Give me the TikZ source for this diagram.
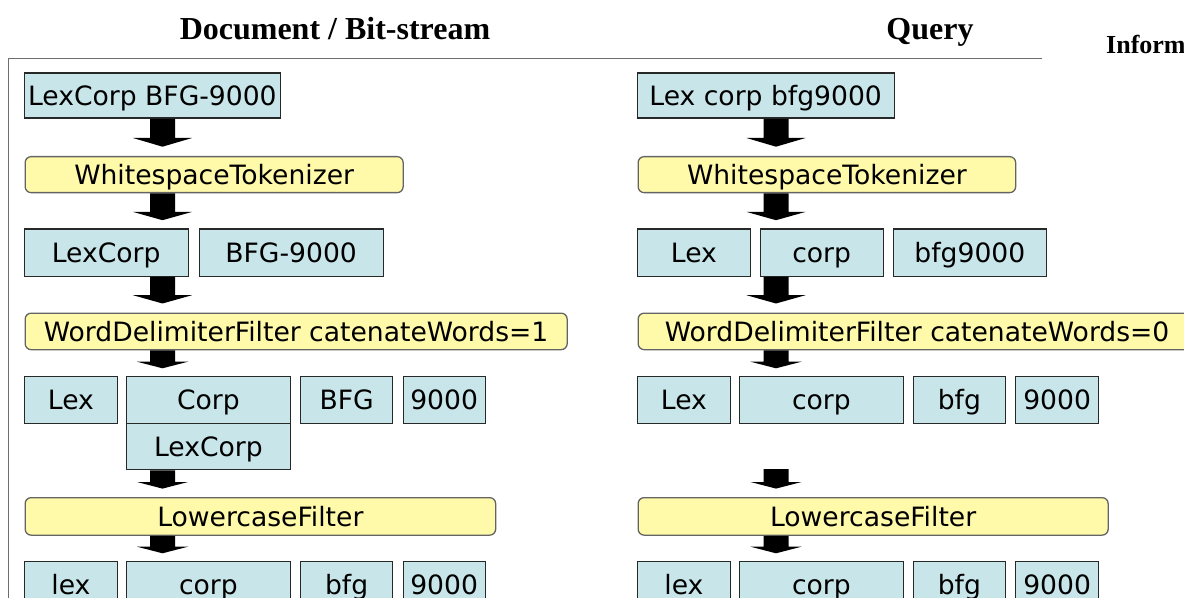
\documentclass[tikz,border=0pt]{standalone}
\usepackage{fontspec}
\setmainfont{Liberation Serif}
\newfontfamily\boxfont{DejaVu Sans}
\usetikzlibrary{calc}
\definecolor{cellblue}{RGB}{200,230,234}
\definecolor{filteryellow}{RGB}{255,250,170}
\definecolor{cellborder}{RGB}{40,40,40}
\definecolor{filterborder}{RGB}{100,100,100}
\definecolor{framegray}{RGB}{110,110,110}
\tikzset{
  cell/.style={draw=cellborder, fill=cellblue, line width=1.3bp, inner sep=0pt,
    anchor=north west, font=\boxfont\fontsize{26.6bp}{30bp}\selectfont,
    text height=19.4bp, text depth=0pt},
  filterbox/.style={cell, draw=filterborder, fill=filteryellow, rounded corners=6bp},
  title/.style={font=\bfseries\fontsize{32bp}{36bp}\selectfont, anchor=base, inner sep=0pt},
  frameline/.style={draw=framegray, line width=1.5bp},
}
% #1 start point, #2 tip point, #3 head half width, #4 head length
\newcommand\barrow[4]{%
  \fill[black] let \p1=(#1), \p2=(#2) in
   (\x1-12.5bp,\y1) -- (\x1-12.5bp,\y2+#4) -- (\x1-#3,\y2+#4) -- (\x1,\y2)
   -- (\x1+#3,\y2+#4) -- (\x1+12.5bp,\y2+#4) -- (\x1+12.5bp,\y1) -- cycle;}
\begin{document}
\begin{tikzpicture}[x=1bp, y=-1bp]
\useasboundingbox (0,0) rectangle (1184,598);
% titles
\node[title] (tdoc) at (335,39.3) {Document / Bit-stream};
\node[title] (tq) at (930,39.3) {Query};
\node[font=\bfseries\fontsize{26bp}{30bp}\selectfont, anchor=base west, inner sep=0pt] (tinf) at (1106,53.3) {Inform};
% frame
\path[frameline] (1042,58.5) -- (8.5,58.5) -- (8.5,620);
\coordinate (colL) at (162.5,0);
\coordinate (colR) at (776,0);
% ---------- left column ----------
\node[cell, minimum width=256.5bp, minimum height=45bp] (in1) at (23.5,72.5) {LexCorp BFG-9000};
\node[filterbox, minimum width=378bp, minimum height=36bp] (ws1) at (24.5,156) {WhitespaceTokenizer};
\node[cell, minimum width=164bp, minimum height=47bp] (t1a) at (23.5,228.5) {LexCorp};
\node[cell, minimum width=184bp, minimum height=47bp] (t1b) at (198.5,228.5) {BFG-9000};
\node[filterbox, minimum width=542bp, minimum height=36.5bp] (wdf1) at (24.5,312.5) {WordDelimiterFilter catenateWords=1};
\node[cell, minimum width=93.5bp, minimum height=47bp] (d1a) at (23.5,376) {Lex};
\node[cell, minimum width=163.5bp, minimum height=47bp] (d1b) at (126,376) {Corp};
\node[cell, minimum width=163.5bp, minimum height=46bp] (d1c) at (126,423) {LexCorp};
\node[cell, minimum width=92bp, minimum height=47bp] (d1d) at (300,376) {BFG};
\node[cell, minimum width=82bp, minimum height=47bp] (d1e) at (402.5,376) {9000};
\node[filterbox, minimum width=470.5bp, minimum height=37.5bp] (lc1) at (24.5,497) {LowercaseFilter};
\node[cell, minimum width=93.5bp, minimum height=47bp] (o1a) at (23.5,561) {lex};
\node[cell, minimum width=163.5bp, minimum height=47bp] (o1b) at (126,561) {corp};
\node[cell, minimum width=92bp, minimum height=47bp] (o1c) at (300,561) {bfg};
\node[cell, minimum width=82bp, minimum height=47bp] (o1d) at (402.5,561) {9000};
% ---------- right column ----------
\node[cell, minimum width=257bp, minimum height=45bp] (in2) at (636.5,72.5) {Lex corp bfg9000};
\node[filterbox, minimum width=377.5bp, minimum height=36bp] (ws2) at (637.5,156) {WhitespaceTokenizer};
\node[cell, minimum width=113.5bp, minimum height=47bp] (t2a) at (636.5,228.5) {Lex};
\node[cell, minimum width=123bp, minimum height=47bp] (t2b) at (759.5,228.5) {corp};
\node[cell, minimum width=153.5bp, minimum height=47bp] (t2c) at (892.5,228.5) {bfg9000};
\node[filterbox, minimum width=558bp, minimum height=36.5bp] (wdf2) at (637.5,312.5) {WordDelimiterFilter catenateWords=0};
\node[cell, minimum width=93.5bp, minimum height=47bp] (d2a) at (636.5,376) {Lex};
\node[cell, minimum width=164.5bp, minimum height=47bp] (d2b) at (738.5,376) {corp};
\node[cell, minimum width=92.5bp, minimum height=47bp] (d2c) at (912.5,376) {bfg};
\node[cell, minimum width=83bp, minimum height=47bp] (d2d) at (1015,376) {9000};
\node[filterbox, minimum width=470bp, minimum height=37.5bp] (lc2) at (637.5,497) {LowercaseFilter};
\node[cell, minimum width=93.5bp, minimum height=47bp] (o2a) at (636.5,561) {lex};
\node[cell, minimum width=164.5bp, minimum height=47bp] (o2b) at (738.5,561) {corp};
\node[cell, minimum width=92.5bp, minimum height=47bp] (o2c) at (912.5,561) {bfg};
\node[cell, minimum width=83bp, minimum height=47bp] (o2d) at (1015,561) {9000};
\coordinate (freeR) at (776,469);
% ---------- arrows ----------
\barrow{colL |- in1.south}{$(colL |- ws1.north)+(0,-9.3)$}{29.5bp}{8.7bp}
\barrow{colL |- ws1.south}{$(colL |- t1a.north)+(0,-8.3)$}{29.5bp}{8.3bp}
\barrow{colL |- t1a.south}{$(colL |- wdf1.north)+(0,-9)$}{29.5bp}{8.3bp}
\barrow{colL |- wdf1.south}{$(colL |- d1a.north)+(0,-7.7)$}{25.5bp}{6.6bp}
\barrow{colL |- d1c.south}{$(colL |- lc1.north)+(0,-8.4)$}{25.5bp}{6.6bp}
\barrow{colL |- lc1.south}{$(colL |- o1a.north)+(0,-7.7)$}{25.5bp}{6.6bp}
\barrow{colR |- in2.south}{$(colR |- ws2.north)+(0,-9.3)$}{29.5bp}{8.7bp}
\barrow{colR |- ws2.south}{$(colR |- t2a.north)+(0,-8.3)$}{29.5bp}{8.3bp}
\barrow{colR |- t2b.south}{$(colR |- wdf2.north)+(0,-9)$}{29.5bp}{8.3bp}
\barrow{colR |- wdf2.south}{$(colR |- d2a.north)+(0,-7.7)$}{25.5bp}{6.6bp}
\barrow{freeR}{$(colR |- lc2.north)+(0,-8.4)$}{25.5bp}{6.6bp}
\barrow{colR |- lc2.south}{$(colR |- o2a.north)+(0,-7.7)$}{25.5bp}{6.6bp}
\end{tikzpicture}
\end{document}
